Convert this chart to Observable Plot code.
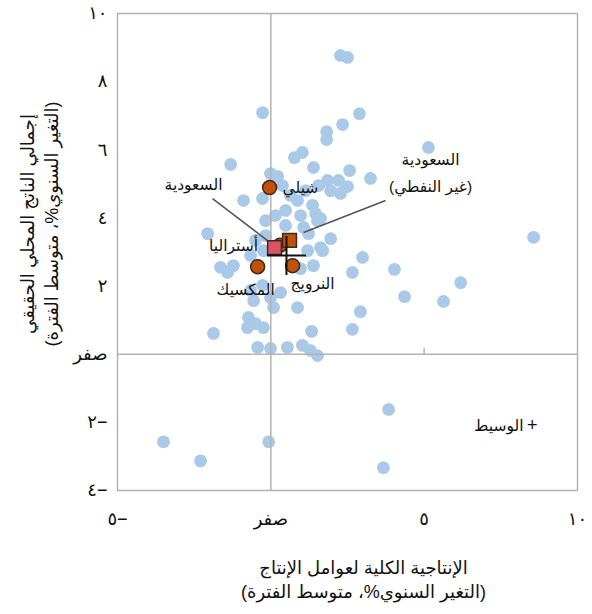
<!DOCTYPE html>
<html>
<head>
<meta charset="utf-8">
<script src="https://cdn.jsdelivr.net/npm/d3@7"></script>
<script src="https://cdn.jsdelivr.net/npm/@observablehq/plot@0.6"></script>
<style>
  body { margin: 0; background: #fff; }
  #chart svg { display: block; }
</style>
</head>
<body>
<div id="chart"></div>
<script>
// ---- Data ----
const otherX = [2.27, 2.50, -0.27, 2.89, 2.34, 1.82, 1.82, 1.03, 0.77, -1.31, 2.57, 3.25, 5.14, -0.01, 0.22,
  -0.27, -0.89, 1.39, 1.85, 2.21, 2.50, 1.56, 1.95, 2.27, 1.36, 1.46, 1.62, 1.07, 0.87, 1.13, 0.38, 0.64,
  0.48, 0.97, 0.15, 0.48, 1.52, 1.23, 1.95, 1.62, 1.20, 1.69, 1.39, 0.97, 2.99, 2.66, 4.03, 6.19, 8.57,
  4.36, 5.63, 2.92, 2.66, 1.33, 0.87, -2.06, -1.64, -1.22, -1.41, -0.01, 0.32, 0.09, -0.27, -0.66, -0.73,
  -0.50, -0.24, -0.76, -1.87, -0.43, -0.01, 0.54, 1.03, 1.29, 1.52, -3.50, -2.29, -0.07, 3.84, 3.67,
  -0.24, -0.66, -0.17, -0.50, -0.17, -0.56];
const otherY = [8.77, 8.71, 7.09, 7.06, 6.74, 6.53, 6.30, 5.92, 5.77, 5.57, 5.39, 5.16, 6.07, 5.30, 5.22,
  4.57, 4.51, 5.48, 5.10, 5.10, 4.92, 4.95, 4.80, 4.72, 4.37, 4.13, 3.98, 3.72, 4.51, 4.80, 4.95, 4.66,
  4.22, 4.07, 4.07, 3.78, 3.92, 3.54, 3.39, 3.13, 3.04, 3.04, 2.60, 2.51, 2.84, 2.40, 2.49, 2.10, 3.43,
  1.69, 1.55, 1.25, 0.73, 0.67, 1.37, 3.54, 2.55, 2.60, 2.40, 1.66, 1.81, 1.37, 2.02, 1.87, 1.08,
  0.90, 0.78, 0.78, 0.61, 0.20, 0.17, 0.20, 0.26, 0.11, -0.04, -2.57, -3.13, -2.57, -1.62, -3.33,
  3.04, 2.90, 3.48, 3.34, 3.92, 1.57];

const countryNames = ["أستراليا", "شيلي", "المكسيك", "النرويج"];
const countryX = [0.30, -0.04, -0.43, 0.71];
const countryY = [3.20, 4.89, 2.57, 2.60];

const saudiNames = ["السعودية (غير النفطي)", "السعودية"];
const saudiLabelLines = [["السعودية", "(غير النفطي)"], ["السعودية"]];
const saudiX = [0.61, 0.12];
const saudiY = [3.34, 3.13];

const medianX = [0.51];
const medianY = [2.90];

const xTicks = [-5, 0, 5, 10];
const yTicks = [-4, -2, 0, 2, 4, 6, 8, 10];
const zeroLabel = "صفر";
const xTitleLines = ["الإنتاجية الكلية لعوامل الإنتاج", "(التغير السنوي%، متوسط الفترة)"];
const yTitleLines = ["إجمالي الناتج المحلي الحقيقي", "(التغير السنوي%، متوسط الفترة)"];
const legendLabel = "الوسيط";

// ---- Build tables ----
const others = otherX.map((x, i) => ({x, y: otherY[i]}));
const countries = countryNames.map((name, i) => ({name, x: countryX[i], y: countryY[i]}));
const saudi = saudiNames.map((name, i) => ({name, x: saudiX[i], y: saudiY[i]}));
const median = medianX.map((x, i) => ({x, y: medianY[i]}));

// ---- Layout ----
const W = 592, H = 614, ML = 117, MR = 15, MT = 13, MB = 124;
const kx = (W - ML - MR) / 15;  // px per x unit
const ky = (H - MT - MB) / 14;  // px per y unit

const arDigits = s => String(s).replace(/\d/g, d => "٠١٢٣٤٥٦٧٨٩"[+d]);
const fmt = v => v === 0 ? zeroLabel : v < 0 ? "\u200F\u2212" + arDigits(-v) : arDigits(v);

const font = "'Liberation Sans', 'DejaVu Sans', Arial, sans-serif";
const blue = "#a9c9e7";
const orange = "#c2520b";
const pink = "#dc5462";
const outline = "#3b2a22";
const ink = "#111";

const plusSymbol = {
  draw(context, size) {
    const r = Math.sqrt(size / Math.PI);
    context.moveTo(-r, 0); context.lineTo(r, 0);
    context.moveTo(0, -r); context.lineTo(0, r);
  }
};

// label offsets (pixels)
const countryLabelPos = {
  "أستراليا": {dx: -22, dy: 1, anchor: "end"},
  "شيلي": {dx: 13, dy: 0, anchor: "start"},
  "المكسيك": {dx: -12, dy: 23, anchor: "middle"},
  "النرويج": {dx: 20, dy: 18, anchor: "middle"}
};
const saudiLabelPos = [
  {dx: 141, dy: -80, gap: 27, sx: 96, sy: -40, ex: 14, ey: -8},
  {dx: -81, dy: -63, gap: 0, sx: -62, sy: -49, ex: -3, ey: -4}
];

const saudiTextMarks = [];
saudi.forEach((d, i) => {
  saudiLabelLines[i].forEach((line, j) => {
    saudiTextMarks.push(Plot.text([d], {
      x: "x", y: "y", text: () => line,
      dx: saudiLabelPos[i].dx, dy: saudiLabelPos[i].dy + j * saudiLabelPos[i].gap,
      textAnchor: "middle", fontSize: 15.5, fill: ink
    }));
  });
});

const chart = Plot.plot({
  width: W, height: H,
  marginLeft: ML, marginRight: MR, marginTop: MT, marginBottom: MB,
  style: {fontFamily: font, fontSize: "18px", color: ink, background: "#fff", overflow: "visible"},
  x: {domain: [-5, 10], ticks: xTicks, tickFormat: fmt, tickSize: 0, tickPadding: 22, label: null},
  y: {domain: [-4, 10], ticks: yTicks, tickFormat: fmt, tickSize: 0, tickPadding: 10, label: null},
  marks: [
    Plot.dot(others, {x: "x", y: "y", r: 6.4, fill: blue, stroke: "none"}),
    Plot.ruleX([0], {stroke: "#b3b3b3", strokeWidth: 1.5}),
    Plot.ruleY([0], {stroke: "#b3b3b3", strokeWidth: 1.5}),
    Plot.ruleX([xTicks[2]], {y1: 0, y2: 6 / ky, stroke: "#b3b3b3", strokeWidth: 1.5}),
    Plot.frame({stroke: "#b3b3b3", strokeWidth: 1.5}),
    // leader lines
    Plot.link(saudi, {
      x1: (d, i) => d.x + saudiLabelPos[i].sx / kx,
      y1: (d, i) => d.y - saudiLabelPos[i].sy / ky,
      x2: (d, i) => d.x + saudiLabelPos[i].ex / kx,
      y2: (d, i) => d.y - saudiLabelPos[i].ey / ky,
      stroke: "#555", strokeWidth: 1.6
    }),
    // hidden Australia circle beneath the squares
    Plot.dot(countries.filter(d => d.name === "أستراليا"), {x: "x", y: "y", r: 7, fill: orange, stroke: outline, strokeWidth: 1.5}),
    Plot.dot(saudi, {x: "x", y: "y", symbol: "square", r: 7.8, fill: (d, i) => i === 0 ? orange : pink, stroke: outline, strokeWidth: 1.5}),
    Plot.dot(countries.filter(d => d.name !== "أستراليا"), {x: "x", y: "y", r: 7, fill: orange, stroke: outline, strokeWidth: 1.5}),
    Plot.dot(median, {x: "x", y: "y", symbol: plusSymbol, r: 19.5, fill: "none", stroke: ink, strokeWidth: 2}),
    // labels
    ...countries.map(d => Plot.text([d], {
      x: "x", y: "y", text: "name",
      dx: countryLabelPos[d.name].dx, dy: countryLabelPos[d.name].dy,
      textAnchor: countryLabelPos[d.name].anchor, fontSize: 15.5, fill: ink
    })),
    ...saudiTextMarks,
    // legend
    Plot.text([legendLabel], {frameAnchor: "bottom-right", dx: -54, dy: -60, textAnchor: "end", fontSize: 15.5, fill: ink}),
    Plot.text(["+"], {frameAnchor: "bottom-right", dx: -40, dy: -60, fontSize: 18, fill: ink}),
    // axis titles (one text per line)
    ...xTitleLines.map((line, j) => Plot.text([line], {frameAnchor: "bottom", dx: 16, dy: 83 + j * 24, textAnchor: "middle", fontSize: 18, fill: ink})),
    ...yTitleLines.map((line, j) => Plot.text([line], {frameAnchor: "left", dx: -89 + j * 24, dy: -28, rotate: -90, textAnchor: "middle", fontSize: 18, fill: ink}))
  ]
});

document.getElementById("chart").append(chart);
</script>
</body>
</html>
